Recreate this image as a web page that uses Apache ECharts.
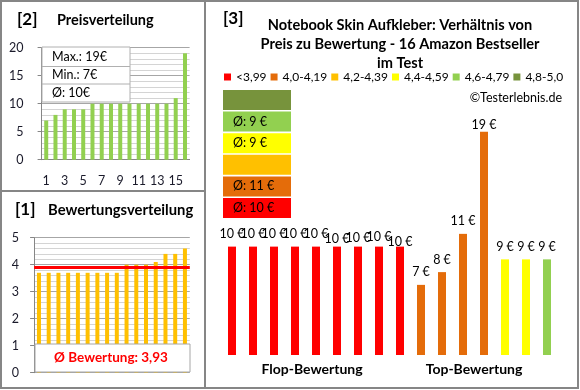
<!DOCTYPE html>
<html>
<head>
<meta charset="utf-8">
<script src="https://cdn.jsdelivr.net/npm/echarts@6/dist/echarts.min.js"></script>
<style>html,body{margin:0;padding:0;background:#fff}#c{width:580px;height:390px}</style>
</head>
<body>
<div id="c"></div>
<script>
// ---- data ----
const priceCats = ['1','2','3','4','5','6','7','8','9','10','11','12','13','14','15','16'];
const prices = [7, 8, 9, 9, 9, 10, 10, 10, 10, 10, 10, 10, 10, 10, 11, 19];
const ratingCats = ['1','2','3','4','5','6','7','8','9','10','11','12','13','14','15','16'];
const ratings = [3.7, 3.7, 3.7, 3.7, 3.7, 3.7, 3.7, 3.7, 3.7, 4.0, 4.0, 4.0, 4.1, 4.4, 4.4, 4.6];
const mainCats = ['1','2','3','4','5','6','7','8','9','10','11','12','13','14','15','16'];
const mainPrices = [10, 10, 10, 10, 10, 10, 10, 10, 10, 7, 8, 11, 19, 9, 9, 9];
const mainGroups = [0, 0, 0, 0, 0, 0, 0, 0, 0, 1, 1, 1, 1, 3, 3, 4];
const groupNames = ['<3,99', '4,0-4,19', '4,2-4,39', '4,4-4,59', '4,6-4,79', '4,8-5,0'];
const yTicksPrice = [0, 5, 10, 15, 20];
const yTicksRating = [0, 1, 2, 3, 4, 5];

// ---- styles ----
const FONT = 'Lato, "Liberation Sans", sans-serif';
const groupColors = ['#FF0000', '#E46C0A', '#FFC000', '#FFFF00', '#92D050', '#77933C'];
const labelDy = {5: 5, 6: 4, 7: 3, 8: 8, 12: 6};

const chart = echarts.init(document.getElementById('c'), null, {renderer: 'canvas'});

const maxP = Math.max(...prices), minP = Math.min(...prices);
const avgP = Math.round(prices.reduce((a, b) => a + b, 0) / prices.length);
const avgR = ratings.reduce((a, b) => a + b, 0) / ratings.length;
const avgRtxt = (Math.round(avgR * 100 + 1e-6) / 100).toFixed(2).replace('.', ',');

const mainSeries = groupNames.map((name, k) => ({
  type: 'bar', name: name, xAxisIndex: 2, yAxisIndex: 2,
  barWidth: 8, barGap: '-100%',
  itemStyle: {color: groupColors[k]},
  label: {show: true, position: 'top', distance: 6, formatter: '{c} €', fontFamily: FONT, fontSize: 12.5, color: '#000'},
  data: mainPrices.map((v, i) => mainGroups[i] === k
    ? {value: v, label: labelDy[i] ? {offset: [0, labelDy[i]]} : undefined}
    : '-')
}));

// average boxes per group
const boxes = [];
for (let k = 5; k >= 0; k--) {
  const vals = mainPrices.filter((v, i) => mainGroups[i] === k);
  const y = 90 + (5 - k) * 21.6;
  boxes.push({type: 'rect', z: 50, shape: {x: 223, y: y, width: 68, height: 20}, style: {fill: groupColors[k]}});
  if (vals.length) {
    const a = Math.round(vals.reduce((s, v) => s + v, 0) / vals.length);
    boxes.push({type: 'text', z: 51, x: 233, y: y + 10, style: {text: 'Ø: ' + a + ' €', font: '12.5px ' + FONT, fill: '#000', textVerticalAlign: 'middle'}});
  }
}

function boldText(x, y, t, size, align) {
  return {type: 'text', z: 60, x: x, y: y, style: {text: t, font: 'bold ' + size + 'px ' + FONT, fill: '#000', textAlign: align || 'left', textVerticalAlign: 'middle'}};
}

const option = {
  animation: false,
  backgroundColor: '#fff',
  textStyle: {fontFamily: FONT},
  legend: {
    data: groupNames, left: 224, top: 71, itemWidth: 7, itemHeight: 7, itemGap: 4, icon: 'rect',
    textStyle: {fontFamily: FONT, fontSize: 12, color: '#000'}, padding: 0
  },
  grid: [
    {left: 41.6, top: 47.7, width: 148, height: 112, outerBoundsMode: 'none'},
    {left: 34.1, top: 237.7, width: 155.7, height: 135, outerBoundsMode: 'none'},
    {left: 221.5, top: 119.1, width: 336, height: 235.9, outerBoundsMode: 'none'}
  ],
  xAxis: [
    {type: 'category', gridIndex: 0, data: priceCats,
      axisLine: {lineStyle: {color: '#868686'}}, axisTick: {show: false},
      axisLabel: {interval: 1, margin: 15, fontFamily: FONT, fontSize: 12.5, color: '#1a1a2a'}},
    {type: 'category', gridIndex: 1, data: ratingCats,
      axisLine: {show: false}, axisTick: {show: false}, axisLabel: {show: false}},
    {type: 'category', gridIndex: 2, data: mainCats, show: false}
  ],
  yAxis: [
    {type: 'value', gridIndex: 0, min: yTicksPrice[0], max: yTicksPrice[yTicksPrice.length - 1], interval: 5,
      axisLine: {show: true, lineStyle: {color: '#868686'}},
      axisTick: {show: true, length: 4, lineStyle: {color: '#868686'}},
      axisLabel: {margin: 18, fontFamily: FONT, fontSize: 12.5, color: '#1a1a2a'},
      splitLine: {lineStyle: {color: '#a6a6a6'}},
      minorTick: {show: false, splitNumber: 5},
      minorSplitLine: {show: true, lineStyle: {color: '#d4d4d4'}}},
    {type: 'value', gridIndex: 1, min: yTicksRating[0], max: yTicksRating[yTicksRating.length - 1], interval: 1,
      axisLine: {show: true, lineStyle: {color: '#868686'}},
      axisTick: {show: true, length: 4, lineStyle: {color: '#868686'}},
      axisLabel: {margin: 15, fontFamily: FONT, fontSize: 12.5, color: '#1a1a2a'},
      splitLine: {lineStyle: {color: '#a6a6a6'}},
      minorTick: {show: false, splitNumber: 5},
      minorSplitLine: {show: true, lineStyle: {color: '#d4d4d4'}}},
    {type: 'value', gridIndex: 2, min: 1.5, max: 20, show: false, splitLine: {show: false}}
  ],
  series: [
    {type: 'bar', xAxisIndex: 0, yAxisIndex: 0, data: prices, barWidth: 4, itemStyle: {color: '#92D050'}},
    {type: 'bar', xAxisIndex: 1, yAxisIndex: 1, data: ratings, barWidth: 4, itemStyle: {color: '#FFC000'},
      markLine: {silent: true, symbol: 'none', label: {show: false},
        lineStyle: {color: '#FF0000', width: 3, type: 'solid'},
        data: [{yAxis: avgR}]}},
    ...mainSeries
  ],
  graphic: [
    // frames
    {type: 'rect', z: 40, shape: {x: 1, y: 1, width: 577, height: 387}, style: {fill: null, stroke: '#868686', lineWidth: 2}},
    {type: 'line', z: 40, shape: {x1: 205, y1: 1, x2: 205, y2: 388}, style: {stroke: '#868686', lineWidth: 2}},
    {type: 'line', z: 40, shape: {x1: 1, y1: 191, x2: 205, y2: 191}, style: {stroke: '#868686', lineWidth: 2}},
    // panel titles
    boldText(17, 20, '[2]', 17),
    boldText(57, 20, 'Preisverteilung', 14.5),
    boldText(15, 210, '[1]', 17),
    boldText(48, 210, 'Bewertungsverteilung', 14.8),
    boldText(223, 19, '[3]', 17),
    {type: 'text', z: 60, x: 400, y: 44, style: {
      text: 'Notebook Skin Aufkleber: Verhältnis von\nPreis zu Bewertung - 16 Amazon Bestseller\nim Test',
      font: 'bold 14.6px ' + FONT, lineHeight: 19, fill: '#000', textAlign: 'center', textVerticalAlign: 'middle'}},
    {type: 'text', z: 60, x: 562, y: 98, style: {text: '©Testerlebnis.de', font: '12.5px ' + FONT, fill: '#000', textAlign: 'right', textVerticalAlign: 'middle'}},
    boldText(312, 369, 'Flop-Bewertung', 14, 'center'),
    boldText(474, 369, 'Top-Bewertung', 14, 'center'),
    // stats box (price)
    {type: 'rect', z: 50, shape: {x: 42, y: 47, width: 88, height: 55}, style: {fill: '#fff', stroke: '#b0b0b0', lineWidth: 1}},
    {type: 'line', z: 51, shape: {x1: 42, y1: 66.5, x2: 130, y2: 66.5}, style: {stroke: '#b0b0b0', lineWidth: 1}},
    {type: 'line', z: 51, shape: {x1: 42, y1: 84, x2: 130, y2: 84}, style: {stroke: '#b0b0b0', lineWidth: 1}},
    {type: 'text', z: 52, x: 52, y: 57, style: {text: 'Max.: ' + maxP + '€', font: '12.5px ' + FONT, fill: '#000', textVerticalAlign: 'middle'}},
    {type: 'text', z: 52, x: 52, y: 75, style: {text: 'Min.: ' + minP + '€', font: '12.5px ' + FONT, fill: '#000', textVerticalAlign: 'middle'}},
    {type: 'text', z: 52, x: 52, y: 93, style: {text: 'Ø: ' + avgP + '€', font: '12.5px ' + FONT, fill: '#000', textVerticalAlign: 'middle'}},
    // rating box
    {type: 'rect', z: 50, shape: {x: 35, y: 344, width: 155, height: 28}, style: {fill: '#fff', stroke: '#a6a6a6', lineWidth: 1}},
    {type: 'text', z: 52, x: 111, y: 358, style: {text: 'Ø Bewertung: ' + avgRtxt, font: 'bold 13.5px ' + FONT, fill: '#FF0000', textAlign: 'center', textVerticalAlign: 'middle'}},
    ...boxes
  ]
};
chart.setOption(option);
</script>
</body>
</html>
